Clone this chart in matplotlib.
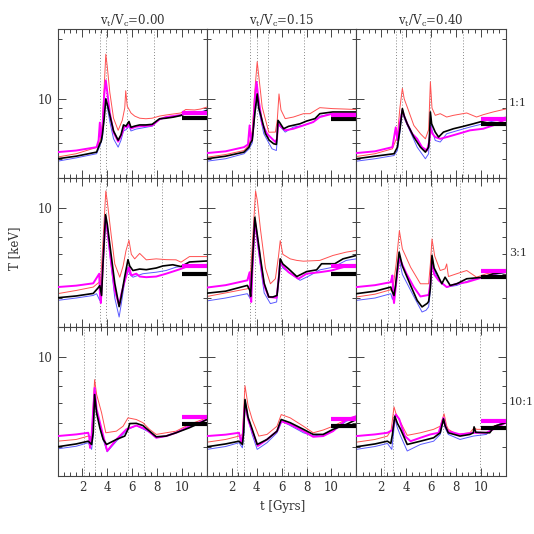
import numpy as np
import matplotlib
matplotlib.use("Agg")
import matplotlib.pyplot as plt

plt.rcParams['font.family'] = ['DejaVu Serif']
plt.rcParams['mathtext.fontset'] = 'dejavuserif'

# column / row labels
col_titles = ["0.00", "0.15", "0.40"]
row_labels = ["1:1", "3:1", "10:1"]

# (t [Gyr], T [keV]), row r, column c
# --- row 1 (1:1)
r1c1_black = [(0, 5.0), (1.5, 5.15), (3.14, 5.4), (3.4, 5.95), (3.5, 6.1), (3.6, 6.6), (3.75, 8.0), (3.88, 10.0), (4.0, 9.4), (4.2, 8.3), (4.5, 6.9), (4.87, 6.2), (5.1, 6.6), (5.3, 7.4), (5.5, 7.3), (5.74, 7.7), (5.9, 7.2), (6.2, 7.3), (6.6, 7.4), (7.1, 7.4), (7.6, 7.45), (8.2, 7.95), (8.7, 8.0), (9.3, 8.1), (9.9, 8.25), (10.3, 8.45), (11.0, 8.45), (11.5, 8.5), (12.0, 8.75)]
r1c1_red = [(0, 5.1), (1.5, 5.3), (3.14, 5.7), (3.4, 6.1), (3.6, 7.5), (3.75, 11.5), (3.88, 16.8), (4.0, 14.5), (4.2, 10.8), (4.5, 8.0), (4.87, 6.95), (5.2, 7.8), (5.4, 9.0), (5.48, 11.0), (5.6, 9.2), (5.9, 8.5), (6.2, 8.2), (6.6, 8.0), (7.1, 7.95), (7.6, 8.0), (8.2, 8.2), (8.7, 8.3), (9.3, 8.4), (9.9, 8.5), (10.3, 8.85), (11.0, 8.8), (11.5, 8.9), (12.0, 9.1)]
r1c1_mag = [(0, 5.4), (1.5, 5.5), (3.14, 5.72), (3.3, 6.2), (3.4, 7.6), (3.48, 6.4), (3.6, 7.0), (3.75, 10.5), (3.88, 12.4), (4.0, 10.8), (4.2, 8.5), (4.5, 6.8), (4.87, 6.1), (5.1, 6.5), (5.4, 7.3), (5.6, 7.2), (5.74, 7.5), (5.9, 7.1), (6.3, 7.25), (6.8, 7.3), (7.6, 7.35), (8.2, 7.9), (8.7, 8.1), (9.3, 8.2), (9.9, 8.3), (10.3, 8.5), (11.0, 8.5), (11.5, 8.55), (12.0, 8.6)]
r1c1_blue = [(0, 4.86), (1.5, 5.05), (3.14, 5.3), (3.4, 5.8), (3.6, 6.3), (3.75, 8.0), (3.88, 10.1), (4.0, 9.1), (4.2, 7.7), (4.5, 6.3), (4.87, 5.72), (5.1, 6.2), (5.3, 6.9), (5.5, 7.0), (5.74, 7.3), (5.9, 6.9), (6.3, 7.05), (7.1, 7.2), (7.6, 7.3), (8.2, 7.9), (8.7, 8.05), (9.3, 8.15), (9.9, 8.3), (10.3, 8.45), (11.0, 8.5), (11.5, 8.6), (12.0, 8.8)]

r1c2_black = [(0, 5.0), (1.5, 5.15), (2.98, 5.4), (3.38, 5.72), (3.5, 6.0), (3.64, 6.2), (3.85, 8.5), (4.04, 10.6), (4.17, 9.0), (4.3, 8.4), (4.7, 6.7), (5.0, 6.2), (5.36, 5.95), (5.58, 5.9), (5.63, 6.4), (5.71, 7.8), (5.85, 7.6), (6.16, 7.08), (6.56, 7.28), (7.48, 7.5), (8.01, 7.74), (8.68, 7.96), (9.07, 8.43), (10.1, 8.6), (11.0, 8.6), (12.0, 8.6)]
r1c2_red = [(0, 5.09), (1.5, 5.25), (2.98, 5.5), (3.38, 5.85), (3.64, 6.9), (3.85, 11.0), (4.04, 15.4), (4.2, 12.5), (4.44, 9.11), (4.97, 6.8), (5.5, 6.81), (5.65, 7.8), (5.79, 10.6), (5.95, 8.8), (6.29, 7.96), (6.95, 8.11), (7.75, 8.43), (8.28, 8.43), (9.07, 9.04), (10.1, 8.94), (11.0, 8.9), (12.0, 8.85)]
r1c2_mag = [(0, 5.34), (1.5, 5.45), (2.98, 5.72), (3.3, 5.9), (3.43, 7.36), (3.56, 6.1), (3.7, 6.8), (3.85, 10.0), (3.99, 12.2), (4.1, 10.5), (4.44, 7.5), (4.83, 6.68), (5.5, 6.07), (5.63, 6.3), (5.71, 7.5), (5.9, 7.3), (6.29, 6.95), (6.95, 7.08), (7.75, 7.36), (8.54, 7.65), (9.07, 8.11), (10.1, 8.43), (11.0, 8.45), (12.0, 8.45)]
r1c2_blue = [(0, 4.86), (1.5, 5.0), (2.98, 5.3), (3.38, 5.6), (3.64, 6.0), (3.85, 8.3), (4.04, 10.2), (4.17, 8.8), (4.57, 6.68), (5.23, 5.61), (5.58, 5.5), (5.65, 6.2), (5.71, 7.65), (5.85, 7.3), (6.29, 6.81), (6.95, 7.22), (7.75, 7.36), (8.54, 7.65), (9.07, 8.18), (10.1, 8.43), (11.0, 8.45), (12.0, 8.45)]

r1c3_black = [(0, 5.0), (1.5, 5.15), (3.03, 5.3), (3.3, 5.72), (3.5, 7.0), (3.7, 8.94), (3.85, 8.2), (4.09, 7.5), (4.62, 6.43), (5.15, 5.72), (5.55, 5.4), (5.81, 5.72), (5.88, 6.5), (5.95, 8.6), (6.05, 7.5), (6.34, 6.81), (6.61, 6.43), (7.0, 6.81), (7.8, 7.08), (8.6, 7.28), (9.4, 7.5), (10.19, 7.74), (10.99, 7.96), (12.0, 8.05)]
r1c3_red = [(0, 5.13), (1.5, 5.3), (2.9, 5.61), (3.3, 6.5), (3.5, 9.0), (3.7, 11.3), (3.85, 10.0), (4.09, 9.11), (4.62, 7.36), (5.15, 6.68), (5.55, 6.3), (5.81, 7.0), (5.95, 12.2), (6.08, 9.0), (6.34, 8.27), (6.74, 8.43), (7.26, 8.11), (7.8, 8.27), (8.87, 8.5), (9.66, 8.11), (10.19, 8.33), (10.99, 8.6), (12.0, 8.9)]
r1c3_mag = [(0, 5.34), (1.5, 5.45), (2.9, 5.72), (3.17, 7.2), (3.3, 6.2), (3.5, 7.6), (3.7, 8.77), (3.85, 8.2), (4.09, 7.5), (4.49, 6.68), (4.89, 6.3), (5.28, 5.72), (5.68, 5.5), (5.88, 6.2), (5.95, 7.22), (6.1, 6.7), (6.34, 6.43), (6.74, 6.3), (7.39, 6.46), (8.2, 6.68), (9.13, 6.95), (10.19, 7.08), (10.99, 7.36), (12.0, 7.9)]
r1c3_blue = [(0, 4.86), (1.5, 5.0), (3.03, 5.19), (3.3, 5.5), (3.5, 6.8), (3.7, 8.77), (3.85, 8.0), (4.23, 7.08), (4.89, 5.72), (5.55, 5.0), (5.81, 5.3), (5.95, 8.43), (6.08, 7.0), (6.34, 6.18), (6.74, 6.07), (7.26, 6.68), (8.2, 6.95), (9.13, 7.22), (10.19, 7.5), (10.99, 7.74), (12.0, 7.96)]

# --- row 2 (3:1)
r2c1_black = [(0, 5.01), (1.5, 5.08), (2.87, 5.18), (3.25, 5.4), (3.4, 5.5), (3.54, 5.1), (3.65, 6.5), (3.86, 9.5), (4.0, 8.8), (4.3, 7.0), (4.6, 5.6), (4.95, 4.68), (5.1, 5.0), (5.4, 5.9), (5.66, 6.72), (5.8, 6.4), (6.06, 6.18), (6.6, 6.25), (7.13, 6.22), (7.93, 6.3), (8.46, 6.4), (9.26, 6.46), (9.92, 6.37), (10.6, 6.6), (12.0, 6.65)]
r2c1_red = [(0, 5.17), (1.5, 5.3), (2.87, 5.44), (3.35, 5.65), (3.42, 5.4), (3.55, 6.5), (3.88, 11.4), (4.0, 10.5), (4.3, 8.2), (4.6, 6.5), (5.0, 5.87), (5.27, 6.4), (5.5, 7.2), (5.74, 7.8), (5.93, 7.0), (6.2, 6.76), (6.6, 7.05), (7.13, 6.71), (7.93, 6.76), (8.72, 6.72), (9.52, 6.71), (9.92, 6.59), (10.6, 6.88), (12.0, 6.88)]
r2c1_mag = [(0, 5.44), (1.5, 5.5), (2.87, 5.6), (3.35, 6.03), (3.4, 5.2), (3.48, 4.81), (3.6, 6.0), (3.86, 9.31), (4.0, 8.5), (4.3, 6.6), (4.6, 5.3), (4.95, 4.73), (5.13, 5.17), (5.4, 5.7), (5.74, 6.34), (5.93, 5.95), (6.33, 6.03), (6.6, 5.9), (7.13, 5.87), (7.93, 5.9), (8.72, 6.03), (9.52, 6.18), (9.92, 6.26), (10.6, 6.42), (12.0, 6.42)]
r2c1_blue = [(0, 4.91), (1.5, 5.0), (2.87, 5.1), (3.14, 5.17), (3.4, 4.9), (3.55, 5.5), (3.86, 9.31), (4.0, 8.3), (4.3, 6.5), (4.6, 5.0), (4.95, 4.32), (5.13, 4.8), (5.4, 5.7), (5.66, 6.34), (5.8, 6.0), (6.06, 5.87), (6.86, 6.03), (7.93, 6.1), (8.72, 6.18), (9.52, 6.34), (10.6, 6.42), (12.0, 6.48)]

r2c2_black = [(0, 5.19), (1.5, 5.27), (3.25, 5.51), (3.45, 5.3), (3.51, 5.06), (3.6, 6.0), (3.85, 9.31), (4.0, 8.4), (4.3, 6.8), (4.6, 5.6), (4.97, 5.04), (5.3, 5.04), (5.63, 5.1), (5.8, 6.0), (5.89, 6.76), (6.1, 6.5), (6.56, 6.26), (7.22, 5.9), (8.01, 6.13), (8.81, 6.21), (9.21, 6.51), (10.27, 6.51), (10.93, 6.76), (12.0, 6.94)]
r2c2_red = [(0, 5.06), (1.5, 5.2), (3.25, 5.37), (3.45, 5.5), (3.6, 7.0), (3.91, 11.4), (4.05, 10.6), (4.3, 8.5), (4.7, 6.3), (5.1, 5.58), (5.5, 5.8), (5.75, 6.9), (5.89, 7.78), (6.1, 7.0), (6.69, 6.76), (7.22, 6.68), (7.75, 6.64), (9.07, 6.68), (10.13, 6.94), (11.19, 7.12), (12.0, 7.21)]
r2c2_mag = [(0, 5.42), (1.5, 5.52), (3.25, 5.73), (3.43, 6.1), (3.5, 5.1), (3.56, 4.85), (3.65, 6.2), (3.85, 9.07), (4.0, 8.2), (4.3, 6.6), (4.6, 5.5), (4.97, 5.04), (5.6, 5.01), (5.8, 6.0), (5.89, 6.68), (6.1, 6.4), (6.56, 6.1), (7.35, 5.8), (8.01, 6.03), (9.07, 6.1), (10.0, 6.18), (11.0, 6.35), (12.0, 6.42)]
r2c2_blue = [(0, 4.89), (1.5, 5.0), (3.25, 5.17), (3.45, 5.0), (3.56, 4.91), (3.65, 6.0), (3.85, 9.07), (4.0, 8.0), (4.3, 6.4), (4.6, 5.2), (5.1, 4.79), (5.6, 4.85), (5.8, 5.9), (5.89, 6.59), (6.1, 6.3), (6.56, 6.1), (7.48, 5.73), (8.28, 5.95), (9.07, 6.21), (10.13, 6.34), (11.19, 6.68), (12.0, 6.76)]

r2c3_black = [(0, 5.17), (1.5, 5.27), (2.77, 5.44), (2.85, 5.3), (3.03, 5.1), (3.15, 5.5), (3.44, 7.12), (3.7, 6.4), (4.36, 5.51), (4.89, 4.91), (5.28, 4.67), (5.7, 4.8), (5.81, 4.87), (5.95, 5.4), (6.08, 6.94), (6.25, 6.3), (6.48, 6.03), (6.87, 5.58), (7.13, 5.87), (7.54, 5.51), (8.07, 5.58), (8.87, 5.8), (10.19, 5.87), (10.99, 6.03), (12.0, 6.1)]
r2c3_red = [(0, 5.04), (1.5, 5.15), (2.77, 5.33), (2.95, 5.4), (3.2, 6.5), (3.46, 8.4), (3.7, 7.3), (4.36, 6.34), (5.15, 5.58), (5.81, 5.58), (5.95, 6.5), (6.08, 7.88), (6.3, 6.9), (6.74, 6.18), (7.13, 6.26), (7.26, 6.5), (7.4, 5.9), (8.07, 6.03), (8.87, 6.18), (9.66, 5.87), (10.45, 6.03), (12.0, 6.18)]
r2c3_mag = [(0, 5.44), (1.5, 5.52), (2.77, 5.65), (2.9, 5.95), (2.98, 5.0), (3.03, 4.81), (3.2, 5.6), (3.44, 6.85), (3.6, 6.6), (4.03, 6.03), (4.62, 5.44), (5.15, 5.06), (5.81, 5.12), (5.95, 5.6), (6.08, 6.76), (6.25, 6.0), (6.61, 5.73), (7.26, 5.44), (8.07, 5.58), (8.87, 5.65), (10.19, 5.87), (12.0, 6.18)]
r2c3_blue = [(0, 4.91), (1.5, 5.0), (2.77, 5.17), (2.9, 4.95), (3.1, 5.2), (3.44, 6.76), (3.7, 6.0), (4.62, 5.06), (5.28, 4.49), (5.6, 4.55), (5.81, 4.67), (5.95, 5.3), (6.08, 6.76), (6.25, 6.2), (6.61, 5.73), (7.13, 5.5), (7.26, 5.44), (8.07, 5.51), (9.13, 5.73), (10.19, 5.87), (12.0, 6.1)]

# --- row 3 (10:1)
r3c1_black = [(0, 5.01), (1.5, 5.12), (2.47, 5.23), (2.74, 5.1), (2.87, 5.6), (2.98, 7.49), (3.14, 6.5), (3.4, 5.8), (3.67, 5.3), (3.94, 5.1), (4.73, 5.3), (5.4, 5.44), (5.66, 5.73), (5.8, 5.99), (6.33, 6.0), (6.86, 5.9), (7.39, 5.65), (7.93, 5.41), (8.72, 5.44), (9.52, 5.58), (10.59, 5.8), (11.38, 6.0), (12.0, 6.18)]
r3c1_red = [(0, 5.23), (1.5, 5.3), (2.47, 5.44), (2.74, 5.4), (2.98, 8.4), (3.14, 7.5), (3.54, 6.51), (3.88, 5.58), (4.73, 5.65), (5.27, 5.87), (5.66, 6.26), (6.33, 6.18), (6.86, 6.03), (7.39, 5.73), (7.93, 5.51), (8.72, 5.58), (9.52, 5.65), (10.59, 5.95), (12.0, 6.26)]
r3c1_mag = [(0, 5.44), (1.5, 5.51), (2.47, 5.58), (2.55, 5.4), (2.61, 4.97), (2.74, 5.5), (2.98, 7.88), (3.14, 6.7), (3.54, 5.73), (3.99, 4.85), (4.73, 5.3), (5.53, 5.73), (6.33, 5.9), (7.13, 5.73), (7.93, 5.37), (8.72, 5.44), (9.52, 5.58), (10.59, 5.87), (12.0, 6.18)]
r3c1_blue = [(0, 4.93), (1.5, 5.03), (2.47, 5.17), (2.74, 4.91), (2.87, 5.5), (2.98, 7.78), (3.14, 6.6), (3.54, 5.5), (3.99, 4.82), (4.73, 5.23), (5.66, 5.73), (6.33, 5.9), (7.39, 5.6), (7.93, 5.37), (8.72, 5.44), (9.79, 5.65), (11.38, 6.03), (12.0, 6.18)]

r3c2_black = [(0, 5.01), (1.5, 5.12), (2.58, 5.23), (2.85, 5.1), (2.95, 5.6), (3.06, 7.21), (3.3, 6.3), (3.64, 5.73), (4.04, 5.1), (4.83, 5.3), (5.63, 5.65), (5.85, 6.0), (5.97, 6.18), (6.69, 6.03), (7.75, 5.73), (8.54, 5.51), (9.34, 5.51), (10.13, 5.73), (11.19, 5.95), (12.0, 6.18)]
r3c2_red = [(0, 5.19), (1.5, 5.3), (2.58, 5.44), (2.85, 5.5), (3.06, 8.02), (3.3, 6.9), (3.64, 6.18), (4.17, 5.44), (4.83, 5.51), (5.63, 5.87), (5.97, 6.42), (6.69, 6.26), (7.75, 5.87), (8.54, 5.58), (9.34, 5.7), (10.13, 5.87), (11.19, 6.18), (12.0, 6.34)]
r3c2_mag = [(0, 5.44), (1.5, 5.5), (2.58, 5.58), (2.7, 5.3), (2.77, 5.17), (2.9, 5.6), (3.06, 7.03), (3.3, 6.2), (3.64, 5.65), (4.09, 5.04), (4.83, 5.3), (5.63, 5.65), (5.97, 6.1), (6.69, 5.95), (7.75, 5.65), (8.54, 5.41), (9.34, 5.44), (10.13, 5.65), (11.19, 6.18), (12.0, 6.34)]
r3c2_blue = [(0, 4.91), (1.5, 5.02), (2.58, 5.17), (2.85, 4.97), (2.98, 5.6), (3.06, 7.12), (3.3, 6.2), (3.64, 5.5), (4.04, 4.91), (4.83, 5.17), (5.63, 5.58), (6.03, 6.1), (6.69, 5.9), (7.75, 5.58), (8.54, 5.44), (9.34, 5.51), (10.13, 5.65), (11.19, 6.1), (12.0, 6.26)]

r3c3_black = [(0, 5.01), (1.5, 5.12), (2.5, 5.23), (2.77, 5.14), (2.9, 5.5), (3.09, 6.34), (3.3, 6.0), (3.56, 5.73), (4.09, 5.1), (5.15, 5.23), (6.21, 5.37), (6.74, 5.58), (7.0, 6.21), (7.13, 5.9), (7.39, 5.58), (8.33, 5.44), (9.13, 5.51), (9.4, 5.58), (9.46, 5.84), (9.6, 5.6), (10.72, 5.58), (11.11, 5.87), (12.0, 6.03)]
r3c3_red = [(0, 5.19), (1.5, 5.3), (2.5, 5.44), (2.8, 5.7), (3.03, 6.81), (3.17, 6.5), (3.44, 6.18), (4.09, 5.47), (5.15, 5.58), (6.21, 5.73), (6.74, 5.87), (7.05, 6.46), (7.25, 5.9), (7.39, 5.73), (8.07, 5.51), (9.13, 5.58), (9.46, 5.8), (9.66, 5.73), (10.19, 5.73), (10.99, 5.87), (12.0, 6.03)]
r3c3_mag = [(0, 5.44), (1.5, 5.51), (2.5, 5.58), (2.9, 5.7), (3.17, 6.42), (3.44, 6.21), (3.9, 5.44), (4.36, 5.23), (5.15, 5.37), (5.95, 5.51), (6.61, 5.58), (7.0, 6.26), (7.2, 5.8), (7.39, 5.65), (8.33, 5.51), (9.4, 5.58), (10.45, 5.58), (10.99, 5.73), (12.0, 6.03)]
r3c3_blue = [(0, 4.91), (1.5, 5.02), (2.5, 5.14), (2.85, 4.91), (3.0, 5.6), (3.09, 6.21), (3.3, 5.8), (3.56, 5.44), (4.09, 4.85), (5.15, 5.1), (6.21, 5.23), (6.74, 5.51), (7.0, 6.18), (7.13, 5.8), (7.39, 5.51), (8.33, 5.3), (9.4, 5.44), (10.45, 5.51), (11.11, 5.87), (12.0, 6.1)]

# level of the thick bars (black, magenta) drawn from t = 10 to 12
bar_black = [[7.98, 7.9, 7.45], [6.02, 6.02, 5.86], [5.98, 5.87, 5.8]]
bar_mag = [[8.5, 8.3, 7.9], [6.4, 6.4, 6.18], [6.31, 6.21, 6.13]]

# times of the dotted vertical markers
vlines = [
    [[3.38, 3.86, 5.59, 7.74], [3.43, 4.01, 4.91, 7.83], [3.17, 3.67, 5.92, 8.6]],
    [[3.38, 3.86, 5.69, 8.4], [3.43, 3.85, 5.92, 8.01], [2.56, 3.43, 6.08, 8.33]],
    [[2.15, 2.98, 5.66, 6.94], [2.42, 2.98, 6.16, 8.01], [2.21, 2.98, 6.95, 9.95]],
]

panels = [
    [(r1c1_black, r1c1_red, r1c1_mag, r1c1_blue), (r1c2_black, r1c2_red, r1c2_mag, r1c2_blue), (r1c3_black, r1c3_red, r1c3_mag, r1c3_blue)],
    [(r2c1_black, r2c1_red, r2c1_mag, r2c1_blue), (r2c2_black, r2c2_red, r2c2_mag, r2c2_blue), (r2c3_black, r2c3_red, r2c3_mag, r2c3_blue)],
    [(r3c1_black, r3c1_red, r3c1_mag, r3c1_blue), (r3c2_black, r3c2_red, r3c2_mag, r3c2_blue), (r3c3_black, r3c3_red, r3c3_mag, r3c3_blue)],
]

ylims = [(4.0, 22.5), (4.0, 12.6), (4.0, 12.6)]
txt = '#333333'

fig, axes = plt.subplots(3, 3, figsize=(5.34, 5.34), dpi=100)
fig.subplots_adjust(left=0.1077, right=0.947, top=0.9457, bottom=0.1086, wspace=0, hspace=0)

for r in range(3):
    for c in range(3):
        ax = axes[r, c]
        black, red, mag, blue = [np.array(s) for s in panels[r][c]]
        for x in vlines[r][c]:
            ax.axvline(x, color='#888888', ls=(0, (1, 2)), lw=0.7, zorder=1)
        ax.plot(blue[:, 0], blue[:, 1], color='#5a5aff', lw=0.7, zorder=2)
        ax.plot(red[:, 0], red[:, 1], color='#ff5050', lw=0.7, zorder=2)
        ax.plot(mag[:, 0], mag[:, 1], color='#ff00ff', lw=1.4, zorder=3)
        ax.plot(black[:, 0], black[:, 1], color='black', lw=1.2, zorder=4)
        ax.plot([10, 12], [bar_black[r][c]] * 2, color='black', lw=3, solid_capstyle='butt', zorder=5)
        ax.plot([10, 12], [bar_mag[r][c]] * 2, color='#ff00ff', lw=3, solid_capstyle='butt', zorder=5)

        ax.set_yscale('log')
        ax.set_xlim(0, 12)
        ax.set_ylim(*ylims[r])
        ax.set_xticks([2, 4, 6, 8, 10])
        ax.set_xticks(np.arange(0.5, 12, 0.5), minor=True)
        ax.set_yticks([10])
        minors = [4, 5, 6, 7, 8, 9, 20] if r == 0 else [4, 5, 6, 7, 8, 9]
        ax.set_yticks(minors, minor=True)
        ax.set_yticklabels(['10'] if c == 0 else [''])
        ax.set_yticklabels([''] * len(minors), minor=True)
        if r < 2:
            ax.set_xticklabels([])
        ax.tick_params(which='both', direction='in', top=True, right=True,
                       labelsize=8.5, labelcolor=txt, color='#444444', width=0.7)
        ax.tick_params(which='major', length=5.5)
        ax.tick_params(which='minor', length=2.8)
        for s in ax.spines.values():
            s.set_color('#444444')
            s.set_linewidth(0.8)
        if r == 0:
            ax.set_title(r'v$_{\rm t}$/V$_{\rm c}$=' + col_titles[c], fontsize=8.5, color=txt, pad=3)
        if c == 2:
            ax.text(1.02, 0.5, row_labels[r], transform=ax.transAxes, ha='left', va='center',
                    fontsize=8, color=txt)

fig.text(0.028, 0.536, 'T [keV]', rotation=90, ha='center', va='center', fontsize=8.5, color=txt)
fig.text(0.53, 0.052, 't [Gyrs]', ha='center', va='center', fontsize=8.5, color=txt)

plt.savefig('out.png', dpi=100)
